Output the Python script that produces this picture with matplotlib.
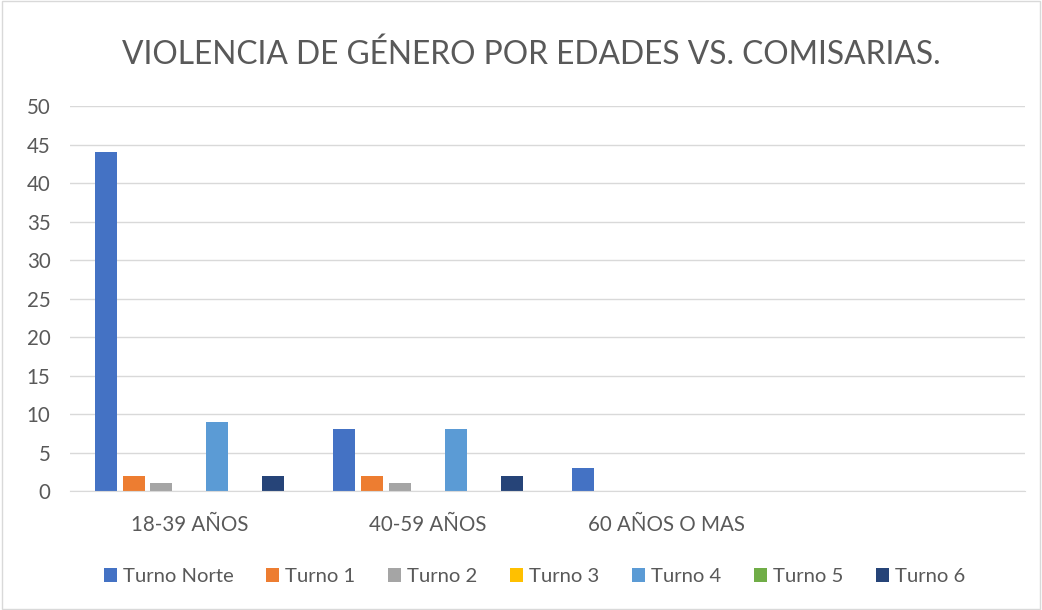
import matplotlib
matplotlib.use("Agg")
import matplotlib.pyplot as plt
from matplotlib.patches import Rectangle

plt.rcParams['font.family'] = ['Lato', 'DejaVu Sans']

categories = ["18-39 AÑOS", "40-59 AÑOS", "60 AÑOS O MAS", ""]
series_names = ["Turno Norte", "Turno 1", "Turno 2", "Turno 3", "Turno 4", "Turno 5", "Turno 6"]
turno_norte = [44, 8, 3, 0]
turno_1 = [2, 2, 0, 0]
turno_2 = [1, 1, 0, 0]
turno_3 = [0, 0, 0, 0]
turno_4 = [9, 8, 0, 0]
turno_5 = [0, 0, 0, 0]
turno_6 = [2, 2, 0, 0]
series = [turno_norte, turno_1, turno_2, turno_3, turno_4, turno_5, turno_6]
colors = ["#4472C4", "#ED7D31", "#A5A5A5", "#FFC000", "#5B9BD5", "#70AD47", "#264478"]
yticks = [0, 5, 10, 15, 20, 25, 30, 35, 40, 45, 50]

fig = plt.figure(figsize=(10.42, 6.10), dpi=100)
fig.patches.append(Rectangle((0.002, 0.002), 0.996, 0.996, transform=fig.transFigure,
                             fill=False, edgecolor="#D9D9D9", linewidth=1))
ax = fig.add_axes([0.0672, 0.195, 0.9165, 0.631])

step = 0.117
width = 0.092
x = range(len(categories))
for i, (name, vals, c) in enumerate(zip(series_names, series, colors)):
    ax.bar([xi + (i - 3) * step for xi in x], vals, width=width, color=c, label=name)

ax.set_xlim(-0.5, len(categories) - 0.5)
ax.set_ylim(0, 50)
ax.set_yticks(yticks)
ax.set_xticks(list(x))
ax.set_xticklabels(categories)
ax.yaxis.grid(True, color="#D9D9D9", linewidth=1)
ax.set_axisbelow(True)
for s in ["top", "right", "left"]:
    ax.spines[s].set_visible(False)
ax.spines["bottom"].set_color("#D9D9D9")
ax.tick_params(axis="both", length=0, labelsize=14.8, colors="#595959")
ax.tick_params(axis="x", pad=17)
ax.tick_params(axis="y", pad=14)

# titulo centrado un poco a la derecha como en el original
fig.suptitle("VIOLENCIA DE GÉNERO POR EDADES VS. COMISARIAS.", fontsize=22.9,
             color="#595959", x=0.51, y=0.935)
fig.legend(loc="center", bbox_to_anchor=(0.513, 0.055), ncol=7, frameon=False,
           fontsize=14.6, handlelength=0.65, handleheight=0.65, handletextpad=0.3,
           columnspacing=1.6, labelcolor="#595959")

fig.savefig("out.png", dpi=100)
